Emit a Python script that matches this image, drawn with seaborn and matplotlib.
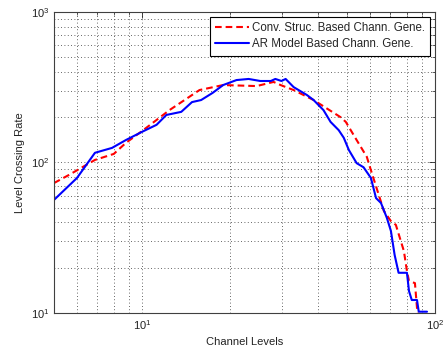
import numpy as np
import pandas as pd
import matplotlib
matplotlib.use("Agg")
import matplotlib.pyplot as plt
import seaborn as sns
from matplotlib.ticker import LogLocator, NullFormatter

# Data
conv_x = [5.0, 5.62, 6.9, 8.0, 8.8, 10.0, 12.4, 15.7, 18.9, 24.6, 28.1, 29.7, 32.9, 38.5,
          47.6, 49.6, 54.0, 58.5, 60.4, 66.9, 70.7, 73.5, 78.3, 80.2, 81.5, 85.4, 86.8, 87.4]
conv_y = [73, 82.6, 104, 114, 135, 162, 223, 303, 327, 322, 343, 327, 303, 260,
          200, 186, 141, 109, 89, 47.6, 40.8, 38.5, 25.8, 19.0, 16.3, 15.8, 10.8, 10.0]

ar_x = [5.0, 5.99, 6.9, 7.89, 8.8, 10.0, 11.2, 12.1, 13.6, 14.8, 15.9, 17.4, 18.9, 21.0,
        23.1, 25.3, 27.5, 28.5, 29.9, 30.9, 32.9, 36.5, 38.5, 41.6, 44.0, 46.9, 48.8,
        50.8, 54.0, 57.0, 60.4, 62.9, 65.4, 68.5, 70.7, 72.8, 75.1, 80.2, 81.5, 83.3,
        86.8, 88.0, 93.9]
ar_y = [56.4, 78.9, 116, 125, 141, 160, 178, 207, 217, 252, 260, 290, 327, 353,
        359, 348, 348, 359, 348, 359, 317, 281, 260, 223, 186, 164, 146,
        121, 99, 93, 79, 58, 53.8, 42.8, 35.1, 24.3, 18.5, 18.5, 14.0, 12.2,
        12.2, 10.2, 10.2]

labels = ["Conv. Struc. Based Chann. Gene.", "AR Model Based Chann. Gene."]

df = pd.concat([
    pd.DataFrame({"x": conv_x, "y": conv_y, "series": labels[0]}),
    pd.DataFrame({"x": ar_x, "y": ar_y, "series": labels[1]}),
], ignore_index=True)

sns.set_theme(style="white")
plt.rcParams["font.family"] = ["Liberation Sans", "DejaVu Sans"]

fig = plt.figure(figsize=(4.48, 3.56), dpi=100)
ax = fig.add_axes([0.1205, 0.1208, 0.8505, 0.8455])

sns.lineplot(data=df, x="x", y="y", hue="series", style="series",
             palette={labels[0]: "#ff0000", labels[1]: "#0000ff"},
             dashes={labels[0]: (3.2, 1.9), labels[1]: ""},
             linewidth=1.5, sort=False, estimator=None, ax=ax)

ax.set_xscale("log")
ax.set_yscale("log")
ax.set_xlim(5, 100)
ax.set_ylim(10, 1000)

ax.xaxis.set_major_locator(LogLocator(base=10))
ax.xaxis.set_minor_locator(LogLocator(base=10, subs=np.arange(2, 10)))
ax.yaxis.set_major_locator(LogLocator(base=10))
ax.yaxis.set_minor_locator(LogLocator(base=10, subs=np.arange(2, 10)))
ax.xaxis.set_minor_formatter(NullFormatter())
ax.yaxis.set_minor_formatter(NullFormatter())

ax.grid(True, which="both", linestyle=(0, (1, 3)), color="#333333", linewidth=0.6)
ax.tick_params(which="both", direction="in", top=True, right=True, labelsize=8, colors="#222222")
ax.tick_params(which="major", length=4, width=0.6)
ax.tick_params(which="minor", length=2, width=0.5)
for s in ax.spines.values():
    s.set_color("#404040")
    s.set_linewidth(0.8)
    s.set_visible(True)

ax.set_xlabel("Channel Levels", fontsize=8, color="#222222")
ax.set_ylabel("Level Crossing Rate", fontsize=8, color="#222222")

leg = ax.legend(loc="upper right", fontsize=8.3, frameon=True, fancybox=False,
                edgecolor="black", framealpha=1, borderpad=0.45, handlelength=3.0,
                handletextpad=0.2, labelspacing=0.35, borderaxespad=0.45)
leg.get_frame().set_linewidth(0.8)
leg.set_title(None)

fig.savefig("out.png", dpi=100, facecolor="white")
